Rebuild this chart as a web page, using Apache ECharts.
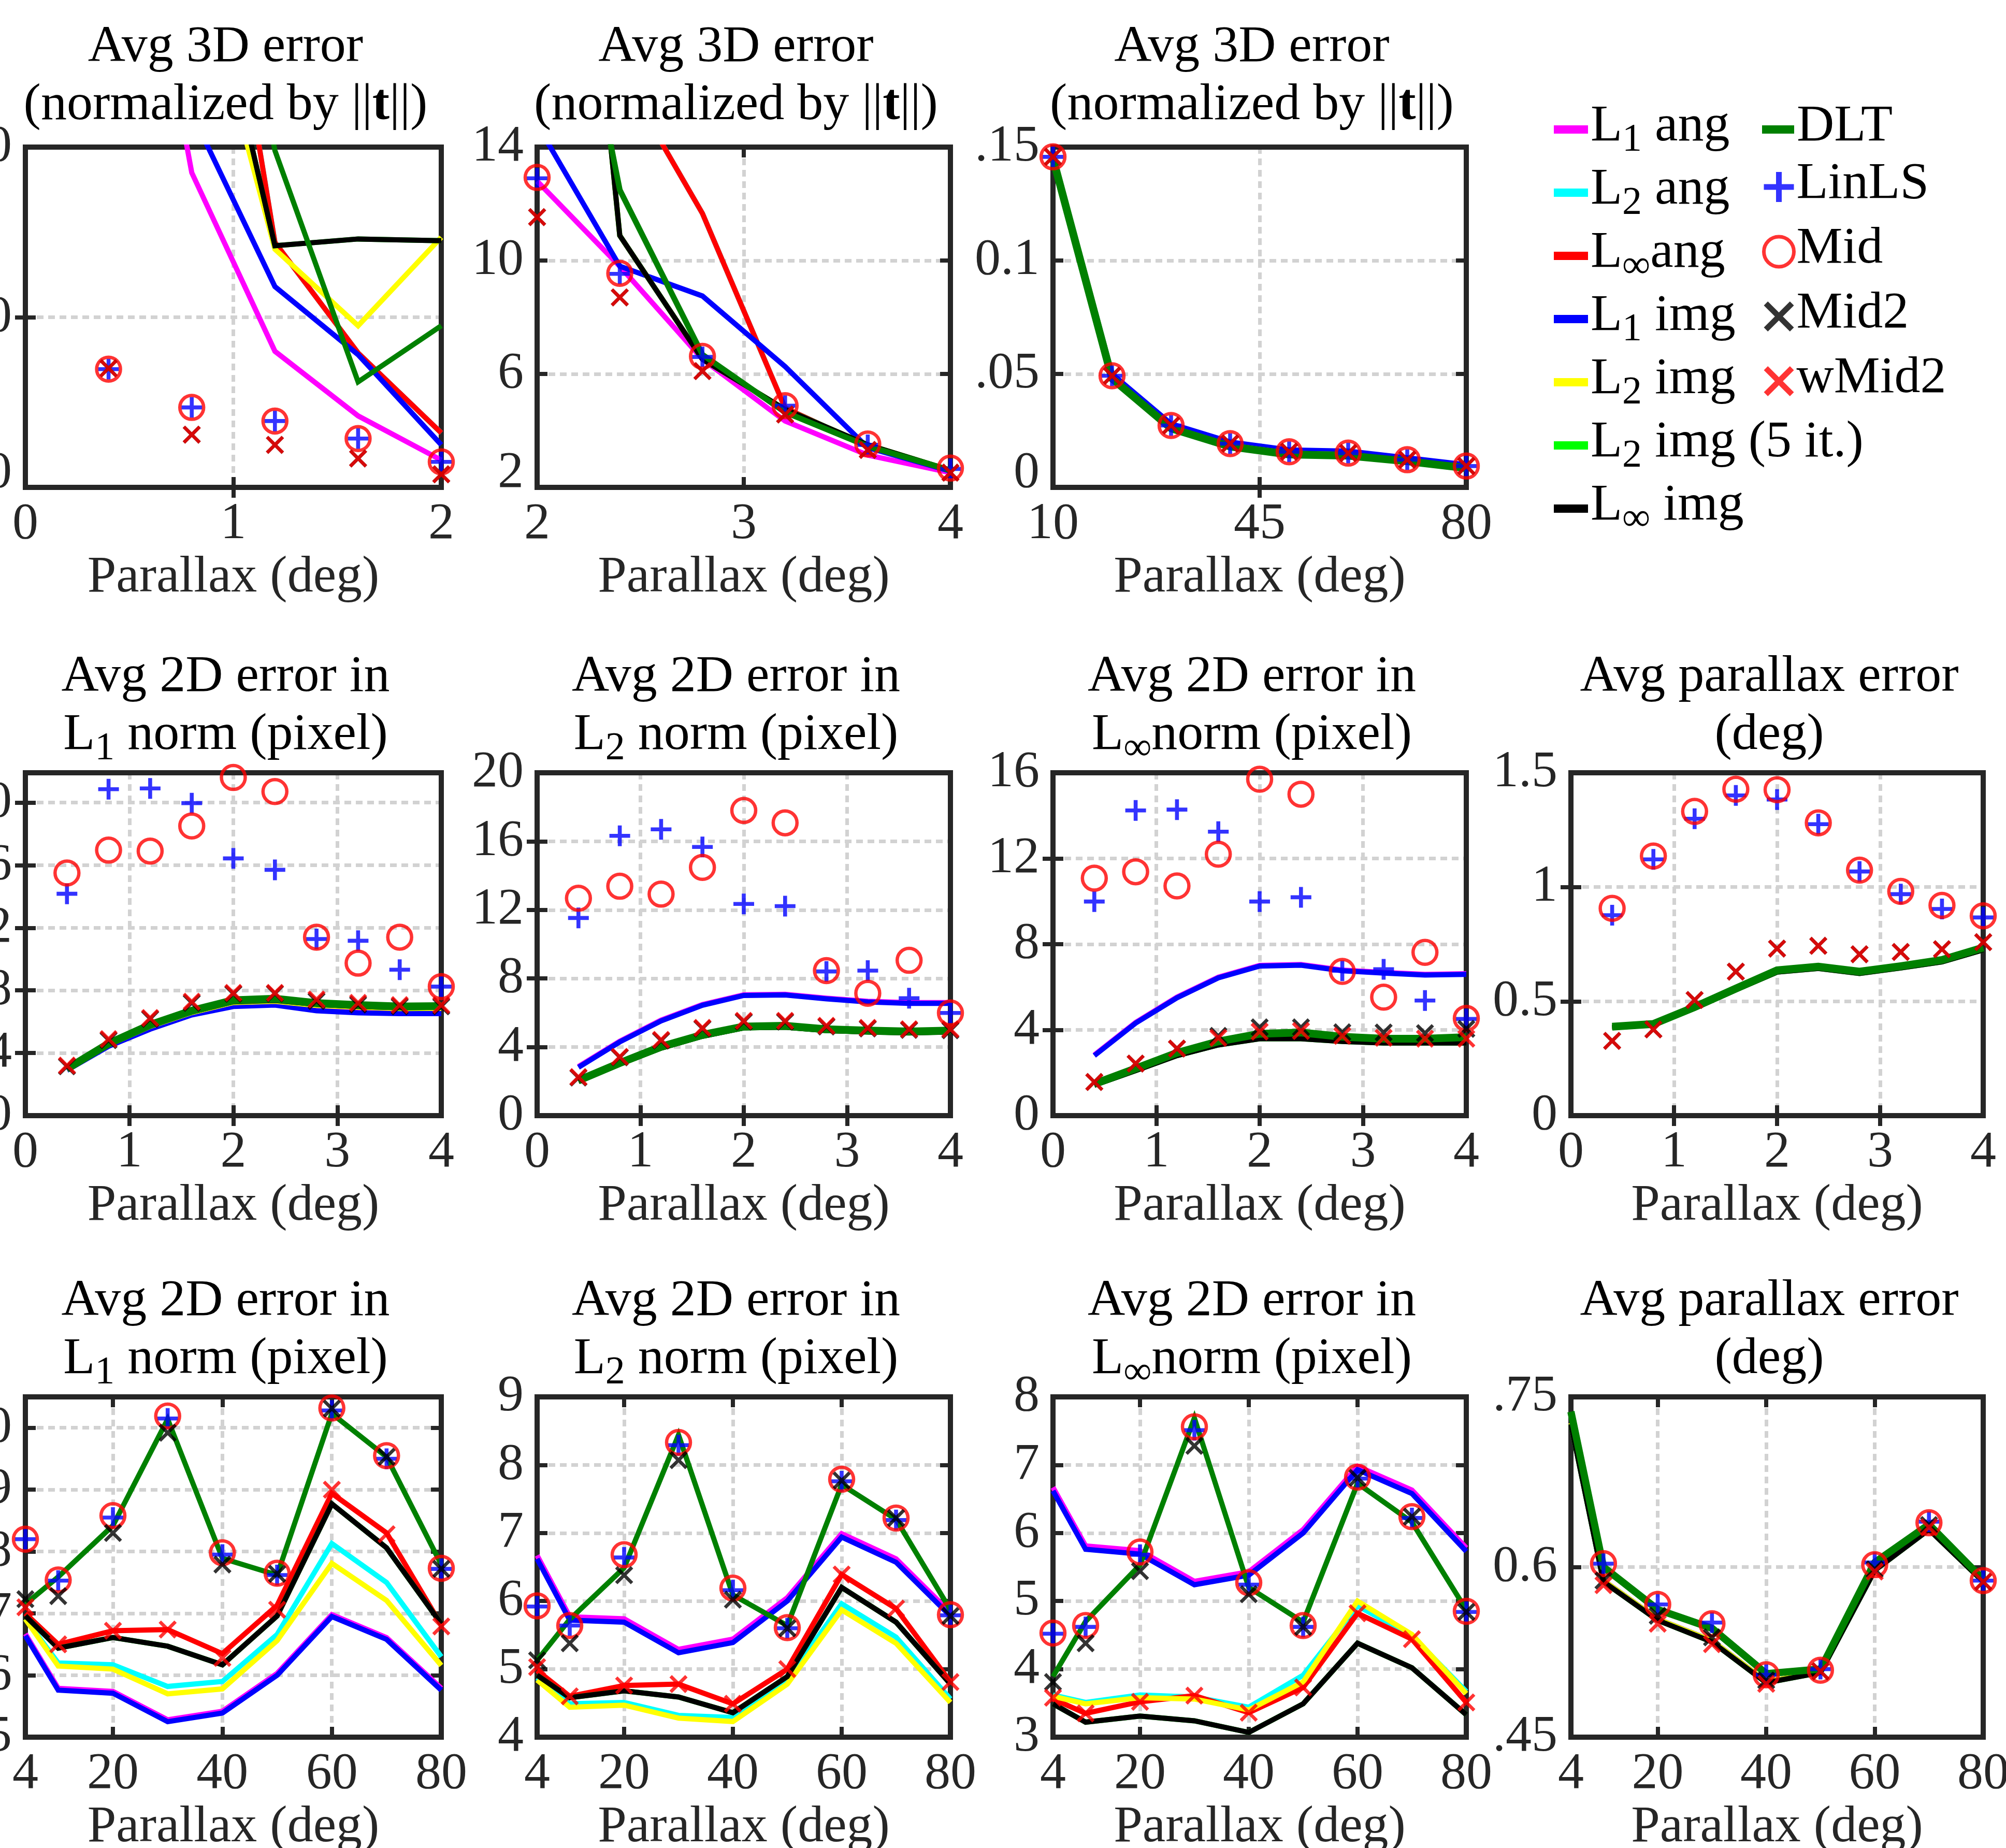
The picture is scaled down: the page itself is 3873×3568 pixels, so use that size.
<!DOCTYPE html>
<html><head><meta charset="utf-8">
<script src="https://cdn.jsdelivr.net/npm/echarts@6/dist/echarts.min.js"></script>
<style>html,body{margin:0;padding:0;background:#fff}#c{width:3873px;height:3568px}</style>
</head><body><div id="c"></div>
<script>
// ---------------- series names ----------------
const KEYS = ['L1 ang','L2 ang','Linf ang','L1 img','L2 img','L2 img (5 it.)','Linf img','DLT','LinLS','Mid','Mid2','wMid2'];

// ---------------- Row 1, panel A (Avg 3D error, 0..2 deg) ----------------
const xA = [0.4, 0.8, 1.2, 1.6, 2.0];
const A_L1ang   = [450, 185, 80, 42, 16];
const A_L2ang   = [700, 442, 144, 79, 32];
const A_Linfang = [700, 442, 144, 79, 32];
const A_L1img   = [520, 220, 118, 78, 25];
const A_L2img   = [500, 324, 140, 95, 147];
const A_L2img5  = [450, 352, 142, 146, 145];
const A_Linfimg = [450, 352, 142, 146, 145];
const A_DLT     = [600, 450, 198, 62, 95];
const A_LinLS   = [69.5, 47, 39, 28.7, 15];
const A_Mid     = [69.5, 47, 39, 28.7, 15];
const A_Mid2    = [70, 31, 25, 17, 7.7];
const A_wMid2   = [70, 31, 25, 17, 7.7];
const A_xTicks = [0, 1, 2],  A_xLabels = ['0', '1', '2'];
const A_yTicks = [0, 100, 200], A_yLabels = ['0', '100', '200'];

// ---------------- Row 1, panel B (Avg 3D error, 2..4 deg) ----------------
const xB = [2.0, 2.4, 2.8, 3.2, 3.6, 4.0];
const B_L1ang   = [12.8, 9.8, 6.52, 4.34, 3.14, 2.52];
const B_L2ang   = [25, 16.7, 11.66, 4.8, 3.45, 2.6];
const B_Linfang = [25, 16.7, 11.66, 4.8, 3.45, 2.6];
const B_L1img   = [14.8, 9.8, 8.75, 6.26, 3.4, 2.57];
const B_L2img   = [40, 10.88, 6.52, 4.75, 3.5, 2.6];
const B_L2img5  = [40, 10.88, 6.52, 4.75, 3.5, 2.6];
const B_Linfimg = [40, 10.88, 6.52, 4.75, 3.5, 2.6];
const B_DLT     = [27.2, 12.49, 6.68, 4.65, 3.45, 2.6];
const B_LinLS   = [12.9, 9.53, 6.6, 4.88, 3.5, 2.65];
const B_Mid     = [12.93, 9.55, 6.62, 4.88, 3.53, 2.68];
const B_Mid2    = [11.53, 8.7, 6.1, 4.57, 3.32, 2.52];
const B_wMid2   = [11.53, 8.7, 6.1, 4.57, 3.32, 2.52];
const B_xTicks = [2, 3, 4], B_xLabels = ['2', '3', '4'];
const B_yTicks = [2, 6, 10, 14], B_yLabels = ['2', '6', '10', '14'];

// ---------------- Row 1, panel C (Avg 3D error, 10..80 deg) ----------------
const xC = [10, 20, 30, 40, 50, 60, 70, 80];
const C_L1ang   = [0.1455, 0.0488, 0.0268, 0.0188, 0.0152, 0.0147, 0.0118, 0.0090];
const C_L2ang   = [0.1455, 0.0487, 0.0267, 0.0187, 0.0151, 0.0146, 0.0117, 0.0089];
const C_Linfang = [0.1456, 0.0489, 0.0269, 0.0189, 0.0153, 0.0148, 0.0119, 0.0091];
const C_L1img   = [0.1460, 0.0500, 0.0280, 0.0200, 0.0165, 0.0160, 0.0130, 0.0100];
const C_L2img   = [0.1455, 0.0485, 0.0265, 0.0185, 0.0150, 0.0145, 0.0117, 0.0088];
const C_L2img5  = [0.1453, 0.0484, 0.0263, 0.0183, 0.0148, 0.0143, 0.0116, 0.0087];
const C_Linfimg = [0.1453, 0.0484, 0.0263, 0.0183, 0.0148, 0.0143, 0.0116, 0.0087];
const C_DLT     = [0.1450, 0.0480, 0.0260, 0.0180, 0.0145, 0.0140, 0.0115, 0.0085];
const C_LinLS   = [0.1457, 0.0492, 0.0273, 0.0193, 0.0157, 0.0151, 0.0122, 0.0094];
const C_Mid     = [0.1457, 0.0492, 0.0273, 0.0193, 0.0157, 0.0151, 0.0122, 0.0094];
const C_Mid2    = [0.1457, 0.0492, 0.0273, 0.0193, 0.0157, 0.0151, 0.0122, 0.0094];
const C_wMid2   = [0.1457, 0.0492, 0.0273, 0.0193, 0.0157, 0.0151, 0.0122, 0.0094];
const C_xTicks = [10, 45, 80], C_xLabels = ['10', '45', '80'];
const C_yTicks = [0, 0.05, 0.1, 0.15], C_yLabels = ['0', '.05', '0.1', '.15'];

// ---------------- Row 2 (0.4..4 deg) ----------------
const x2 = [0.4, 0.8, 1.2, 1.6, 2.0, 2.4, 2.8, 3.2, 3.6, 4.0];
const row2_xTicks = [0, 1, 2, 3, 4], row2_xLabels = ['0', '1', '2', '3', '4'];

const D_L1ang   = [2.95, 4.48, 5.57, 6.48, 7.02, 7.1, 6.75, 6.62, 6.57, 6.57];
const D_L2ang   = [3.0, 4.58, 5.78, 6.68, 7.34, 7.44, 7.16, 7.03, 6.94, 6.97];
const D_Linfang = [3.0, 4.59, 5.79, 6.69, 7.35, 7.45, 7.17, 7.04, 6.95, 6.98];
const D_L1img   = [2.9, 4.43, 5.52, 6.43, 6.97, 7.06, 6.7, 6.57, 6.52, 6.52];
const D_L2img   = [2.95, 4.52, 5.7, 6.58, 7.22, 7.3, 7.04, 6.92, 6.84, 6.86];
const D_L2img5  = [2.97, 4.55, 5.74, 6.62, 7.27, 7.36, 7.1, 6.97, 6.9, 6.92];
const D_Linfimg = [2.97, 4.55, 5.74, 6.62, 7.27, 7.36, 7.1, 6.97, 6.9, 6.92];
const D_DLT     = [2.99, 4.6, 5.8, 6.7, 7.37, 7.47, 7.19, 7.06, 6.97, 7.0];
const D_LinLS   = [14.17, 20.85, 20.9, 19.96, 16.43, 15.7, 11.28, 11.17, 9.32, 8.24];
const D_Mid     = [15.5, 16.96, 16.9, 18.5, 21.6, 20.7, 11.4, 9.74, 11.4, 8.24];
const D_Mid2    = [3.15, 4.82, 6.18, 7.2, 7.78, 7.8, 7.32, 7.1, 6.98, 6.98];
const D_wMid2   = [3.2, 4.89, 6.24, 7.28, 7.84, 7.84, 7.42, 7.2, 7.06, 7.06];
const D_yTicks = [0, 4, 8, 12, 16, 20], D_yLabels = ['0', '4', '8', '12', '16', '20'];

const E_L1ang   = [2.86, 4.34, 5.57, 6.48, 7.05, 7.08, 6.85, 6.67, 6.59, 6.59];
const E_L2ang   = [2.04, 3.05, 4.0, 4.69, 5.18, 5.22, 5.02, 4.94, 4.89, 4.94];
const E_Linfang = [2.04, 3.05, 4.0, 4.69, 5.18, 5.22, 5.02, 4.94, 4.89, 4.94];
const E_L1img   = [2.82, 4.3, 5.53, 6.44, 7.01, 7.04, 6.81, 6.63, 6.55, 6.55];
const E_L2img   = [2.02, 3.03, 3.98, 4.67, 5.16, 5.2, 5.0, 4.92, 4.87, 4.92];
const E_L2img5  = [2.0, 3.0, 3.94, 4.63, 5.12, 5.16, 4.96, 4.88, 4.83, 4.88];
const E_Linfimg = [2.0, 3.0, 3.94, 4.63, 5.12, 5.16, 4.96, 4.88, 4.83, 4.88];
const E_DLT     = [2.05, 3.07, 4.02, 4.71, 5.2, 5.24, 5.04, 4.96, 4.91, 4.96];
const E_LinLS   = [11.53, 16.32, 16.7, 15.67, 12.35, 12.22, 8.41, 8.46, 6.85, 5.99];
const E_Mid     = [12.68, 13.38, 12.92, 14.48, 17.8, 17.08, 8.46, 7.14, 9.06, 5.99];
const E_Mid2    = [2.22, 3.4, 4.38, 5.08, 5.48, 5.48, 5.2, 5.08, 5.0, 4.98];
const E_wMid2   = [2.25, 3.43, 4.42, 5.12, 5.53, 5.53, 5.24, 5.12, 5.04, 5.04];
const E_yTicks = [0, 4, 8, 12, 16, 20], E_yLabels = ['0', '4', '8', '12', '16', '20'];

const F_L1ang   = [2.83, 4.35, 5.53, 6.46, 7.01, 7.05, 6.79, 6.68, 6.59, 6.62];
const F_L2ang   = [1.47, 2.18, 2.9, 3.43, 3.79, 3.85, 3.66, 3.57, 3.57, 3.63];
const F_Linfang = [1.47, 2.18, 2.9, 3.43, 3.79, 3.85, 3.66, 3.57, 3.57, 3.63];
const F_L1img   = [2.8, 4.32, 5.5, 6.43, 6.98, 7.02, 6.76, 6.65, 6.56, 6.59];
const F_L2img   = [1.45, 2.15, 2.86, 3.38, 3.72, 3.78, 3.6, 3.52, 3.52, 3.56];
const F_L2img5  = [1.42, 2.1, 2.8, 3.3, 3.59, 3.59, 3.46, 3.39, 3.39, 3.39];
const F_Linfimg = [1.42, 2.1, 2.8, 3.3, 3.59, 3.59, 3.46, 3.39, 3.39, 3.39];
const F_DLT     = [1.48, 2.2, 2.93, 3.46, 3.82, 3.88, 3.68, 3.59, 3.59, 3.66];
const F_LinLS   = [9.99, 14.24, 14.28, 13.25, 9.99, 10.19, 6.76, 6.83, 5.37, 4.51];
const F_Mid     = [11.08, 11.38, 10.72, 12.2, 15.7, 15.0, 6.73, 5.53, 7.62, 4.54];
const F_Mid2    = [1.57, 2.43, 3.13, 3.72, 4.12, 4.12, 3.89, 3.88, 3.85, 4.05];
const F_wMid2   = [1.57, 2.43, 3.13, 3.63, 3.92, 3.95, 3.72, 3.63, 3.59, 3.59];
const F_yTicks = [0, 4, 8, 12, 16], F_yLabels = ['0', '4', '8', '12', '16'];

const G_L1ang   = [0.387, 0.399, 0.472, 0.553, 0.632, 0.648, 0.626, 0.65, 0.677, 0.73];
const G_L2ang   = [0.387, 0.399, 0.472, 0.553, 0.632, 0.648, 0.626, 0.65, 0.677, 0.73];
const G_Linfang = [0.387, 0.399, 0.472, 0.553, 0.632, 0.648, 0.626, 0.65, 0.677, 0.73];
const G_L1img   = [0.387, 0.399, 0.472, 0.553, 0.632, 0.648, 0.626, 0.65, 0.677, 0.73];
const G_L2img   = [0.387, 0.399, 0.472, 0.553, 0.632, 0.648, 0.626, 0.65, 0.677, 0.73];
const G_L2img5  = [0.385, 0.397, 0.47, 0.55, 0.628, 0.644, 0.622, 0.646, 0.673, 0.725];
const G_Linfimg = [0.385, 0.397, 0.47, 0.55, 0.628, 0.644, 0.622, 0.646, 0.673, 0.725];
const G_DLT     = [0.389, 0.401, 0.475, 0.556, 0.636, 0.652, 0.63, 0.654, 0.681, 0.735];
const G_LinLS   = [0.877, 1.121, 1.299, 1.401, 1.383, 1.275, 1.068, 0.969, 0.904, 0.867];
const G_Mid     = [0.907, 1.136, 1.331, 1.428, 1.426, 1.281, 1.074, 0.981, 0.92, 0.874];
const G_Mid2    = [0.327, 0.377, 0.506, 0.63, 0.731, 0.743, 0.706, 0.716, 0.728, 0.759];
const G_wMid2   = [0.327, 0.377, 0.506, 0.63, 0.731, 0.743, 0.706, 0.716, 0.728, 0.759];
const G_yTicks = [0, 0.5, 1, 1.5], G_yLabels = ['0', '0.5', '1', '1.5'];

// ---------------- Row 3 (4..80 deg) ----------------
const x3 = [4, 10, 20, 30, 40, 50, 60, 70, 80];
const row3_xTicks = [4, 20, 40, 60, 80], row3_xLabels = ['4', '20', '40', '60', '80'];

const H_L1ang   = [6.67, 5.79, 5.74, 5.28, 5.42, 6.03, 6.98, 6.61, 5.79];
const H_L2ang   = [6.91, 6.2, 6.17, 5.82, 5.9, 6.66, 8.13, 7.5, 6.3];
const H_Linfang = [7.0, 6.5, 6.72, 6.74, 6.35, 7.13, 8.94, 8.3, 6.81];
const H_L1img   = [6.64, 5.76, 5.71, 5.25, 5.39, 6.0, 6.95, 6.58, 5.76];
const H_L2img   = [6.91, 6.15, 6.1, 5.7, 5.78, 6.56, 7.81, 7.21, 6.16];
const H_L2img5  = [6.96, 6.44, 6.61, 6.47, 6.17, 6.96, 8.77, 8.06, 6.83];
const H_Linfimg = [6.96, 6.44, 6.61, 6.47, 6.17, 6.96, 8.77, 8.06, 6.83];
const H_DLT     = [7.15, 7.59, 8.42, 10.14, 7.89, 7.62, 10.23, 9.53, 7.79];
const H_LinLS   = [8.2, 7.53, 8.55, 10.15, 7.95, 7.62, 10.28, 9.5, 7.72];
const H_Mid     = [8.2, 7.54, 8.58, 10.19, 7.98, 7.65, 10.32, 9.55, 7.73];
const H_Mid2    = [7.23, 7.28, 8.3, 9.92, 7.79, 7.64, 10.31, 9.53, 7.72];
const H_wMid2   = [7.1, 6.5, 6.72, 6.74, 6.28, 7.06, 9.0, 8.28, 6.79];
const H_yTicks = [5, 6, 7, 8, 9, 10], H_yLabels = ['5', '6', '7', '8', '9', '10'];

const I_L1ang   = [6.67, 5.77, 5.74, 5.29, 5.44, 6.05, 6.99, 6.62, 5.83];
const I_L2ang   = [4.87, 4.49, 4.51, 4.32, 4.29, 4.84, 5.96, 5.47, 4.56];
const I_Linfang = [4.98, 4.6, 4.76, 4.78, 4.49, 5.0, 6.39, 5.89, 4.81];
const I_L1img   = [6.62, 5.72, 5.69, 5.24, 5.39, 6.0, 6.94, 6.57, 5.78];
const I_L2img   = [4.84, 4.44, 4.47, 4.28, 4.23, 4.78, 5.87, 5.38, 4.51];
const I_L2img5  = [4.91, 4.58, 4.68, 4.59, 4.36, 4.89, 6.2, 5.69, 4.78];
const I_Linfimg = [4.91, 4.58, 4.68, 4.59, 4.36, 4.89, 6.2, 5.69, 4.78];
const I_DLT     = [5.13, 5.73, 6.49, 8.44, 6.09, 5.64, 7.71, 7.2, 5.87];
const I_LinLS   = [5.92, 5.64, 6.64, 8.29, 6.16, 5.6, 7.76, 7.19, 5.79];
const I_Mid     = [5.93, 5.64, 6.68, 8.33, 6.19, 5.61, 7.79, 7.22, 5.8];
const I_Mid2    = [5.13, 5.38, 6.38, 8.07, 6.02, 5.6, 7.77, 7.22, 5.78];
const I_wMid2   = [5.03, 4.6, 4.76, 4.78, 4.49, 5.0, 6.39, 5.89, 4.81];
const I_yTicks = [4, 5, 6, 7, 8, 9], I_yLabels = ['4', '5', '6', '7', '8', '9'];

const J_L1ang   = [6.67, 5.81, 5.74, 5.29, 5.43, 6.05, 6.98, 6.63, 5.78];
const J_L2ang   = [3.62, 3.51, 3.62, 3.59, 3.44, 3.91, 4.93, 4.49, 3.67];
const J_Linfang = [3.56, 3.35, 3.52, 3.61, 3.36, 3.73, 4.82, 4.44, 3.51];
const J_L1img   = [6.62, 5.76, 5.69, 5.24, 5.38, 6.0, 6.93, 6.58, 5.73];
const J_L2img   = [3.6, 3.49, 3.58, 3.56, 3.4, 3.81, 5.0, 4.51, 3.64];
const J_L2img5  = [3.49, 3.22, 3.31, 3.24, 3.07, 3.49, 4.38, 4.02, 3.33];
const J_Linfimg = [3.49, 3.22, 3.31, 3.24, 3.07, 3.49, 4.38, 4.02, 3.33];
const J_DLT     = [3.89, 4.7, 5.53, 7.69, 5.2, 4.69, 6.73, 6.16, 4.87];
const J_LinLS   = [4.52, 4.62, 5.68, 7.51, 5.24, 4.62, 6.8, 6.22, 4.84];
const J_Mid     = [4.53, 4.64, 5.72, 7.56, 5.27, 4.64, 6.82, 6.24, 4.85];
const J_Mid2    = [3.81, 4.38, 5.44, 7.28, 5.1, 4.62, 6.81, 6.24, 4.84];
const J_wMid2   = [3.58, 3.35, 3.52, 3.61, 3.36, 3.73, 4.82, 4.44, 3.51];
const J_yTicks = [3, 4, 5, 6, 7, 8], J_yLabels = ['3', '4', '5', '6', '7', '8'];

const K_L1ang   = [0.727, 0.588, 0.554, 0.535, 0.499, 0.507, 0.598, 0.634, 0.587];
const K_L2ang   = [0.727, 0.588, 0.554, 0.535, 0.499, 0.507, 0.598, 0.634, 0.587];
const K_Linfang = [0.727, 0.588, 0.554, 0.535, 0.499, 0.507, 0.598, 0.634, 0.587];
const K_L1img   = [0.727, 0.588, 0.554, 0.535, 0.499, 0.507, 0.598, 0.634, 0.587];
const K_L2img   = [0.727, 0.588, 0.554, 0.535, 0.499, 0.507, 0.598, 0.634, 0.587];
const K_L2img5  = [0.726, 0.587, 0.553, 0.534, 0.498, 0.507, 0.597, 0.633, 0.587];
const K_Linfimg = [0.726, 0.587, 0.553, 0.534, 0.498, 0.507, 0.597, 0.633, 0.587];
const K_DLT     = [0.737, 0.6, 0.5625, 0.546, 0.506, 0.51, 0.604, 0.6375, 0.589];
const K_LinLS   = [null, 0.603, 0.567, 0.551, 0.505, 0.51, 0.604, 0.64, 0.588];
const K_Mid     = [null, 0.603, 0.567, 0.55, 0.505, 0.509, 0.602, 0.639, 0.588];
const K_Mid2    = [null, 0.588, 0.557, 0.538, 0.5, 0.508, 0.598, 0.637, 0.587];
const K_wMid2   = [null, 0.584, 0.55, 0.532, 0.497, 0.508, 0.596, 0.635, 0.587];
const K_yTicks = [0.45, 0.6, 0.75], K_yLabels = ['.45', '0.6', '.75'];

// ---------------- titles ----------------
const T_3D  = '{n|Avg 3D error}\n{n|(normalized by ||}{b|t}{n|||)}';
const T_L1  = '{n|Avg 2D error in}\n{n|L}{s|1}{n| norm (pixel)}';
const T_L2  = '{n|Avg 2D error in}\n{n|L}{s|2}{n| norm (pixel)}';
const T_Li  = '{n|Avg 2D error in}\n{n|L}{s|∞}{n|norm (pixel)}';
const T_PAR = '{n|Avg parallax error}\n{n|(deg)}';
const X_NAME = 'Parallax (deg)';
const LEGEND_TEXT = {
  'L1 ang': '{n|L}{s|1}{n| ang}', 'L2 ang': '{n|L}{s|2}{n| ang}', 'Linf ang': '{n|L}{s|∞}{n|ang}',
  'L1 img': '{n|L}{s|1}{n| img}', 'L2 img': '{n|L}{s|2}{n| img}', 'L2 img (5 it.)': '{n|L}{s|2}{n| img (5 it.)}',
  'Linf img': '{n|L}{s|∞}{n| img}', 'DLT': '{n|DLT}', 'LinLS': '{n|LinLS}', 'Mid': '{n|Mid}',
  'Mid2': '{n|Mid2}', 'wMid2': '{n|wMid2}'
};

// ================= build =================
const FONT = 'Liberation Serif';
const LINE_COLORS = ['#ff00ff', '#00ffff', '#ff0000', '#0000ff', '#ffff00', '#00ff00', '#000000', '#008000'];
const PLUS = 'path://M-1.9,-10 L1.9,-10 L1.9,-1.9 L10,-1.9 L10,1.9 L1.9,1.9 L1.9,10 L-1.9,10 L-1.9,1.9 L-10,1.9 L-10,-1.9 L-1.9,-1.9 Z';
const CROSS = 'path://M-10,-7.35 L-7.35,-10 L0,-2.65 L7.35,-10 L10,-7.35 L2.65,0 L10,7.35 L7.35,10 L0,2.65 L-7.35,10 L-10,7.35 L-2.65,0 Z';

const colLeft = [49, 1037, 2033, 3033];
const colRight = [852, 1835, 2831, 3829];
const rowTop = [284, 1492, 2697];
const rowBottom = [941, 2154, 3354];
const titleTop = [42, 1258, 2463];

const panels = [
  {r:0,c:0,x:xA,d:[A_L1ang,A_L2ang,A_Linfang,A_L1img,A_L2img,A_L2img5,A_Linfimg,A_DLT,A_LinLS,A_Mid,A_Mid2,A_wMid2],xr:[0,2],xt:A_xTicks,xl:A_xLabels,yr:[0,200],yt:A_yTicks,yl:A_yLabels,t:T_3D,dw:10,lift:true},
  {r:0,c:1,x:xB,d:[B_L1ang,B_L2ang,B_Linfang,B_L1img,B_L2img,B_L2img5,B_Linfimg,B_DLT,B_LinLS,B_Mid,B_Mid2,B_wMid2],xr:[2,4],xt:B_xTicks,xl:B_xLabels,yr:[2,14],yt:B_yTicks,yl:B_yLabels,t:T_3D,dw:11,lift:true},
  {r:0,c:2,x:xC,d:[C_L1ang,C_L2ang,C_Linfang,C_L1img,C_L2img,C_L2img5,C_Linfimg,C_DLT,C_LinLS,C_Mid,C_Mid2,C_wMid2],xr:[10,80],xt:C_xTicks,xl:C_xLabels,yr:[0,0.15],yt:C_yTicks,yl:C_yLabels,t:T_3D,dw:15,lift:true},
  {r:1,c:0,x:x2,d:[D_L1ang,D_L2ang,D_Linfang,D_L1img,D_L2img,D_L2img5,D_Linfimg,D_DLT,D_LinLS,D_Mid,D_Mid2,D_wMid2],xr:[0,4],xt:row2_xTicks,xl:row2_xLabels,yr:[0,21.9],yt:D_yTicks,yl:D_yLabels,t:T_L1,dw:15},
  {r:1,c:1,x:x2,d:[E_L1ang,E_L2ang,E_Linfang,E_L1img,E_L2img,E_L2img5,E_Linfimg,E_DLT,E_LinLS,E_Mid,E_Mid2,E_wMid2],xr:[0,4],xt:row2_xTicks,xl:row2_xLabels,yr:[0,20],yt:E_yTicks,yl:E_yLabels,t:T_L2,dw:15},
  {r:1,c:2,x:x2,d:[F_L1ang,F_L2ang,F_Linfang,F_L1img,F_L2img,F_L2img5,F_Linfimg,F_DLT,F_LinLS,F_Mid,F_Mid2,F_wMid2],xr:[0,4],xt:row2_xTicks,xl:row2_xLabels,yr:[0,16],yt:F_yTicks,yl:F_yLabels,t:T_Li,dw:15},
  {r:1,c:3,x:x2,d:[G_L1ang,G_L2ang,G_Linfang,G_L1img,G_L2img,G_L2img5,G_Linfimg,G_DLT,G_LinLS,G_Mid,G_Mid2,G_wMid2],xr:[0,4],xt:row2_xTicks,xl:row2_xLabels,yr:[0,1.5],yt:G_yTicks,yl:G_yLabels,t:T_PAR,dw:15},
  {r:2,c:0,x:x3,d:[H_L1ang,H_L2ang,H_Linfang,H_L1img,H_L2img,H_L2img5,H_Linfimg,H_DLT,H_LinLS,H_Mid,H_Mid2,H_wMid2],xr:[4,80],xt:row3_xTicks,xl:row3_xLabels,yr:[5,10.5],yt:H_yTicks,yl:H_yLabels,t:T_L1,dw:10},
  {r:2,c:1,x:x3,d:[I_L1ang,I_L2ang,I_Linfang,I_L1img,I_L2img,I_L2img5,I_Linfimg,I_DLT,I_LinLS,I_Mid,I_Mid2,I_wMid2],xr:[4,80],xt:row3_xTicks,xl:row3_xLabels,yr:[4,9],yt:I_yTicks,yl:I_yLabels,t:T_L2,dw:10},
  {r:2,c:2,x:x3,d:[J_L1ang,J_L2ang,J_Linfang,J_L1img,J_L2img,J_L2img5,J_Linfimg,J_DLT,J_LinLS,J_Mid,J_Mid2,J_wMid2],xr:[4,80],xt:row3_xTicks,xl:row3_xLabels,yr:[3,8],yt:J_yTicks,yl:J_yLabels,t:T_Li,dw:10},
  {r:2,c:3,x:x3,d:[K_L1ang,K_L2ang,K_Linfang,K_L1img,K_L2img,K_L2img5,K_Linfimg,K_DLT,K_LinLS,K_Mid,K_Mid2,K_wMid2],xr:[4,80],xt:row3_xTicks,xl:row3_xLabels,yr:[0.45,0.75],yt:K_yTicks,yl:K_yLabels,t:T_PAR,dw:14}
];

function labelFmt(ticks, labels, liftMin) {
  return function (v) {
    for (let i = 0; i < ticks.length; i++) {
      if (Math.abs(v - ticks[i]) < 1e-9) {
        return (liftMin && i === 0) ? '{lift|' + labels[i] + '}' : labels[i];
      }
    }
    return '';
  };
}
const interior = (t, r) => t.filter(v => Math.abs(v - r[0]) > 1e-9 && Math.abs(v - r[1]) > 1e-9);

const RICH = {
  n: {fontFamily: FONT, fontSize: 100, color: '#000', lineHeight: 112, verticalAlign: 'top'},
  s: {fontFamily: FONT, fontSize: 76, color: '#000', lineHeight: 112, verticalAlign: 'top', padding: [38, 0, 0, 0]},
  b: {fontFamily: FONT, fontSize: 100, fontWeight: 'bold', color: '#000', lineHeight: 112, verticalAlign: 'top'}
};
const LRICH = {
  n: {fontFamily: FONT, fontSize: 100, color: '#000', lineHeight: 110, verticalAlign: 'top'},
  s: {fontFamily: FONT, fontSize: 76, color: '#000', lineHeight: 110, verticalAlign: 'top', padding: [38, 0, 0, 0]}
};
const YRICH = {lift: {fontFamily: FONT, fontSize: 100, color: '#262626', padding: [0, 0, 54, 0]}};
const GRID_LINE = {color: '#d2d2d2', width: 7, type: [13, 9]};
const TICK_STYLE = {color: '#262626', width: 8};

const grid = [], xAxis = [], yAxis = [], series = [], title = [];
panels.forEach((p, pi) => {
  const L = colLeft[p.c], R = colRight[p.c], T = rowTop[p.r], B = rowBottom[p.r];
  grid.push({left: L, top: T, width: R - L, height: B - T, show: true, z: 1,
    backgroundColor: 'rgba(0,0,0,0)', borderColor: '#262626', borderWidth: 10,
    containLabel: false, outerBoundsMode: 'none'});
  title.push({text: p.t, left: (L + R) / 2 - 15, top: titleTop[p.r], textAlign: 'center', padding: 0,
    textStyle: {fontFamily: FONT, fontSize: 100, fontWeight: 'normal', color: '#000', lineHeight: 112, rich: RICH}});
  const xin = interior(p.xt, p.xr), yin = interior(p.yt, p.yr);
  xAxis.push({type: 'value', gridIndex: pi, position: 'bottom', min: p.xr[0], max: p.xr[1],
    axisLine: {show: false},
    axisTick: {show: true, inside: true, length: 20, lineStyle: TICK_STYLE, customValues: xin},
    axisLabel: {show: true, customValues: p.xt, formatter: labelFmt(p.xt, p.xl, false), margin: 22,
      fontFamily: FONT, fontSize: 100, color: '#262626', showMinLabel: true, showMaxLabel: true, hideOverlap: false},
    splitLine: {show: true, lineStyle: GRID_LINE},
    name: X_NAME, nameLocation: 'middle', nameGap: 125,
    nameTextStyle: {fontFamily: FONT, fontSize: 100, color: '#262626'}});
  xAxis.push({type: 'value', gridIndex: pi, position: 'top', min: p.xr[0], max: p.xr[1],
    axisLine: {show: false},
    axisTick: {show: true, inside: true, length: 20, lineStyle: TICK_STYLE, customValues: xin},
    axisLabel: {show: false}, splitLine: {show: false}});
  yAxis.push({type: 'value', gridIndex: pi, position: 'left', min: p.yr[0], max: p.yr[1],
    axisLine: {show: false},
    axisTick: {show: true, inside: true, length: 20, lineStyle: TICK_STYLE, customValues: yin},
    axisLabel: {show: true, customValues: p.yt, formatter: labelFmt(p.yt, p.yl, !!p.lift), margin: 26,
      fontFamily: FONT, fontSize: 100, color: '#262626', showMinLabel: true, showMaxLabel: true, hideOverlap: false, rich: YRICH},
    splitLine: {show: true, lineStyle: GRID_LINE}});
  yAxis.push({type: 'value', gridIndex: pi, position: 'right', min: p.yr[0], max: p.yr[1],
    axisLine: {show: false},
    axisTick: {show: true, inside: true, length: 20, lineStyle: TICK_STYLE, customValues: yin},
    axisLabel: {show: false}, splitLine: {show: false}});

  const xi = 2 * pi, yi = 2 * pi;
  const pairs = arr => p.x.map((xv, i) => [xv, arr[i]]).filter(q => q[1] !== null && q[1] !== undefined);
  for (let k = 0; k < 8; k++) {
    series.push({type: 'line', name: KEYS[k], xAxisIndex: xi, yAxisIndex: yi, data: pairs(p.d[k]),
      showSymbol: false, symbol: 'none', clip: true, silent: true, animation: false, z: 2,
      lineStyle: {color: LINE_COLORS[k], width: k === 7 ? p.dw : 10, join: 'miter'},
      itemStyle: {color: LINE_COLORS[k]}, emphasis: {disabled: true}});
  }
  series.push({type: 'scatter', name: 'LinLS', xAxisIndex: xi, yAxisIndex: yi, data: pairs(p.d[8]),
    symbol: PLUS, symbolSize: 40, itemStyle: {color: '#0000ff'}, clip: false, silent: true, animation: false, z: 3, emphasis: {disabled: true}});
  series.push({type: 'scatter', name: 'Mid', xAxisIndex: xi, yAxisIndex: yi, data: pairs(p.d[9]),
    symbol: 'circle', symbolSize: 46, itemStyle: {color: 'rgba(0,0,0,0)', borderColor: '#ff0000', borderWidth: 6.5},
    clip: false, silent: true, animation: false, z: 3, emphasis: {disabled: true}});
  series.push({type: 'scatter', name: 'Mid2', xAxisIndex: xi, yAxisIndex: yi, data: pairs(p.d[10]),
    symbol: CROSS, symbolSize: 35, itemStyle: {color: '#000000'}, clip: false, silent: true, animation: false, z: 3, emphasis: {disabled: true}});
  series.push({type: 'scatter', name: 'wMid2', xAxisIndex: xi, yAxisIndex: yi, data: pairs(p.d[11]),
    symbol: CROSS, symbolSize: 35, itemStyle: {color: '#ff0000'}, clip: false, silent: true, animation: false, z: 3, emphasis: {disabled: true}});
});

const legTextStyle = {fontFamily: FONT, fontSize: 100, color: '#000', rich: LRICH};
const legend = [
  {orient: 'vertical', left: 3000, top: 195, itemWidth: 66, itemHeight: 16, itemGap: 8, padding: 0,
    selectedMode: false, align: 'left', formatter: n => LEGEND_TEXT[n], textStyle: legTextStyle,
    data: KEYS.slice(0, 7).map((n, i) => ({name: n, icon: 'rect', itemStyle: {color: LINE_COLORS[i], borderWidth: 0}}))},
  {orient: 'vertical', left: 3402, top: 195, itemWidth: 62, itemHeight: 16, itemGap: 16, padding: 0,
    selectedMode: false, align: 'left', formatter: n => LEGEND_TEXT[n], textStyle: legTextStyle,
    data: [{name: 'DLT', icon: 'rect', itemStyle: {color: '#008000', borderWidth: 0}}]},
  {orient: 'vertical', left: 3402, top: 306, itemWidth: 58, itemHeight: 58, itemGap: 25, padding: 0,
    selectedMode: false, align: 'left', formatter: n => LEGEND_TEXT[n], textStyle: legTextStyle,
    data: [
      {name: 'LinLS', icon: PLUS, itemStyle: {color: '#0000ff', borderWidth: 0}},
      {name: 'Mid', icon: 'circle', itemStyle: {color: 'rgba(0,0,0,0)', borderColor: '#ff0000', borderWidth: 7}},
      {name: 'Mid2', icon: CROSS, itemStyle: {color: '#000000', borderWidth: 0}},
      {name: 'wMid2', icon: CROSS, itemStyle: {color: '#ff0000', borderWidth: 0}}
    ]}
];

const chart = echarts.init(document.getElementById('c'), null, {renderer: 'canvas', width: 3873, height: 3568});
chart.setOption({
  animation: false, backgroundColor: '#ffffff',
  textStyle: {fontFamily: FONT},
  title, legend, grid, xAxis, yAxis, series
});
</script></body></html>
